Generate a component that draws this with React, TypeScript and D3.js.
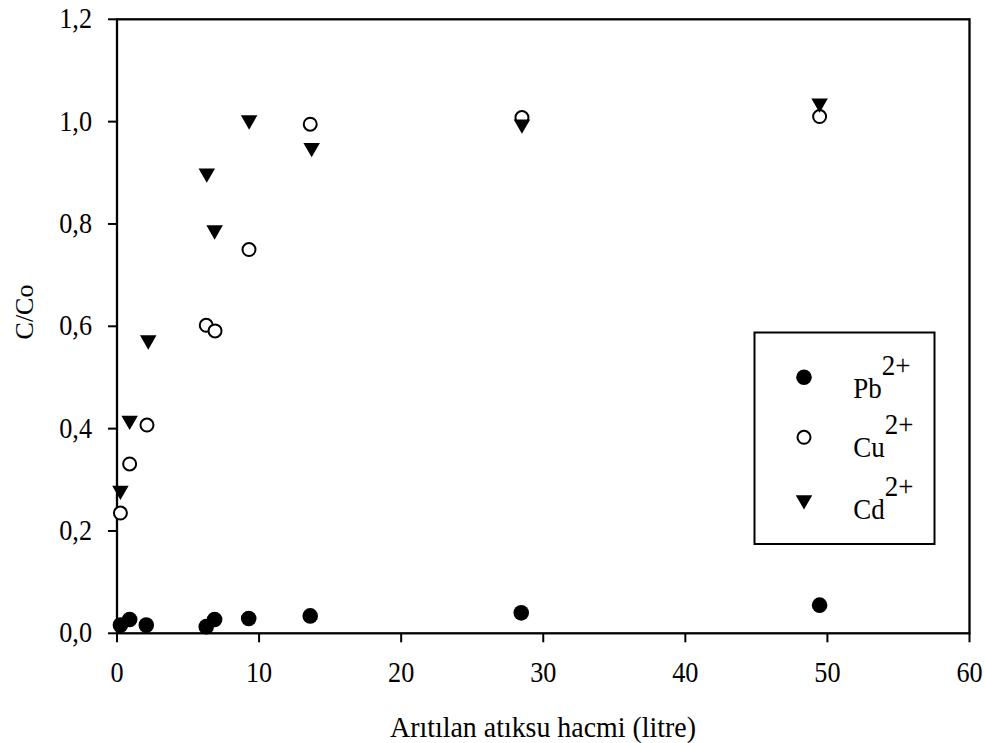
import React from 'react';
import * as d3 from 'd3';

// treated wastewater volume (litre) and C/Co readings
const pbX = [0.24, 0.89, 2.06, 6.28, 6.87, 9.27, 13.6, 28.45, 49.45];
const pbY = [0.016, 0.027, 0.016, 0.013, 0.027, 0.029, 0.034, 0.040, 0.055];

const cuX = [0.24, 0.89, 2.11, 6.28, 6.9, 9.29, 13.6, 28.5, 49.45];
const cuY = [0.235, 0.331, 0.407, 0.602, 0.591, 0.75, 0.995, 1.008, 1.01];

const cdX = [0.24, 0.89, 2.2, 6.32, 6.87, 9.3, 13.7, 28.5, 49.45];
const cdY = [0.279, 0.416, 0.573, 0.899, 0.788, 1.003, 0.949, 0.995, 1.036];

const xTicks = [0, 10, 20, 30, 40, 50, 60];
const yTicks = [0, 0.2, 0.4, 0.6, 0.8, 1.0, 1.2];

const legendNames = ['Pb', 'Cu', 'Cd'];

const W = 985, H = 743;
const left = 117, right = 969.5, top = 19.3, bottom = 633.3;
const font = '"Liberation Serif", "Times New Roman", serif';

// text squeezed a bit horizontally, like the source image
const Label = ({ x, y, size, anchor = 'start', sx = 0.92, children }: any) => (
  <text transform={`translate(${x},${y}) scale(${sx},1)`} fontSize={size} textAnchor={anchor}>
    {children}
  </text>
);

const App = () => {
  const x = d3.scaleLinear().domain([0, 60]).range([left, right]);
  const y = d3.scaleLinear().domain([0, 1.2]).range([bottom, top]);
  const tri = d3.symbol(d3.symbolTriangle, 118)() as string;
  const fmt = (v: number) => v.toFixed(1).replace('.', ',');

  const pb = d3.zip(pbX, pbY);
  const cu = d3.zip(cuX, cuY);
  const cd = d3.zip(cdX, cdY);

  const marker = (kind: number, cx: number, cy: number, key: any) => {
    if (kind === 0) return <circle key={key} cx={cx} cy={cy} r={7.8} fill="#000" />;
    if (kind === 1) return <circle key={key} cx={cx} cy={cy} r={6.5} fill="#fff" stroke="#000" strokeWidth={2} />;
    return <path key={key} d={tri} transform={`translate(${cx},${cy}) rotate(180)`} fill="#000" />;
  };

  // legend box
  const lgX = 754.5, lgY = 332.5, lgW = 180, lgH = 211.5;
  const lgRows = [377.3, 437.3, 500];
  const lgBase = [398.3, 457.3, 519];

  return (
    <svg width={W} height={H} style={{ position: 'absolute', left: 0, top: 0, background: '#fff' }}
         fontFamily={font}>
      {/* frame */}
      <rect x={left} y={top} width={right - left} height={bottom - top} fill="none" stroke="#000" strokeWidth={2.3} />

      {/* y axis */}
      {yTicks.map(t => (
        <g key={'y' + t}>
          <line x1={left - 9} x2={left} y1={y(t)} y2={y(t)} stroke="#000" strokeWidth={2} />
          <Label x={92} y={y(t) + 9} size={28.5} anchor="end">{fmt(t)}</Label>
        </g>
      ))}
      {/* x axis */}
      {xTicks.map(t => (
        <g key={'x' + t}>
          <line x1={x(t)} x2={x(t)} y1={bottom} y2={bottom + 9} stroke="#000" strokeWidth={2} />
          <Label x={x(t)} y={681.7} size={28.5} anchor="middle">{t}</Label>
        </g>
      ))}

      <Label x={543} y={736.7} size={30} anchor="middle" sx={0.93}>Arıtılan atıksu hacmi (litre)</Label>
      <text transform="translate(33,312) rotate(-90)" fontSize={26} textAnchor="middle">C/Co</text>

      {/* data */}
      {cu.map((d, i) => marker(1, x(d[0]), y(d[1]), 'cu' + i))}
      {cd.map((d, i) => marker(2, x(d[0]), y(d[1]), 'cd' + i))}
      {pb.map((d, i) => marker(0, x(d[0]), y(d[1]), 'pb' + i))}

      {/* legend */}
      <rect x={lgX} y={lgY} width={lgW} height={lgH} fill="#fff" stroke="#000" strokeWidth={2} />
      {legendNames.map((n, i) => (
        <g key={n}>
          {marker(i, 804, lgRows[i], 'lg' + i)}
          <Label x={853.3} y={lgBase[i]} size={29} sx={0.93}>
            {n}
            <tspan dy={-23}>2+</tspan>
          </Label>
        </g>
      ))}
    </svg>
  );
};

export default App;
